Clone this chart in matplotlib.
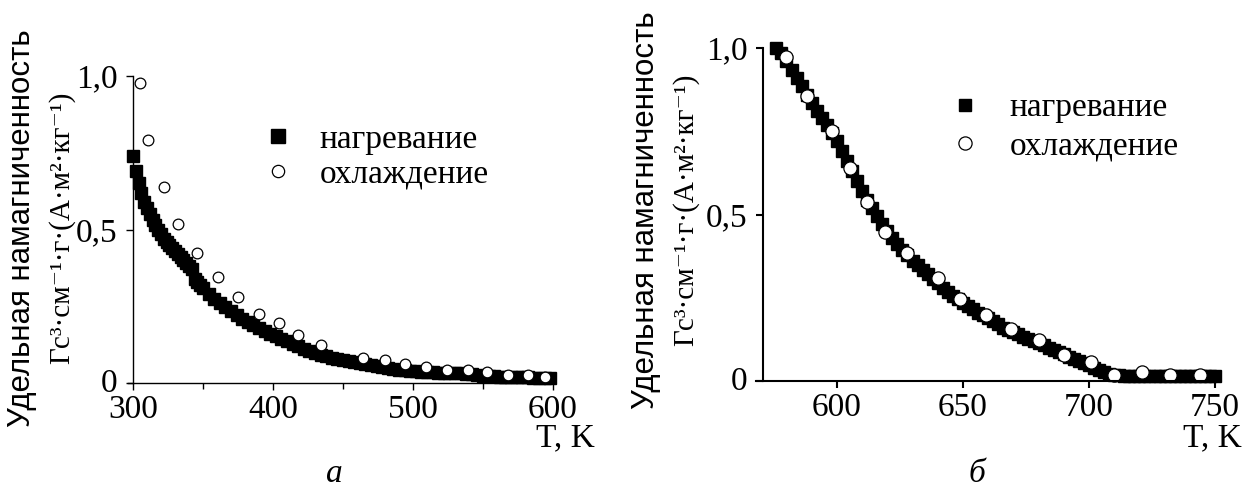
import matplotlib.pyplot as plt
from matplotlib.ticker import FixedLocator
from matplotlib.transforms import ScaledTranslation

plt.rcParams['font.family'] = ['Liberation Serif', 'DejaVu Serif']

# panel а: heating (squares)
heat_a_T = [300, 302, 304, 306, 308, 310, 312, 314, 316, 318, 320, 322, 324, 326, 328,
            330, 332, 334, 336, 338, 340, 342, 344, 346, 348, 350, 354, 358, 362, 366,
            370, 374, 378, 382, 386, 390, 394, 398, 402, 406, 410, 414, 418, 422, 426,
            430, 434, 438, 442, 446, 450, 454, 458, 462, 466, 470, 474, 478, 482, 486,
            490, 494, 498, 502, 506, 510, 514, 518, 522, 526, 530, 534, 538, 542, 546,
            550, 554, 558, 562, 566, 570, 574, 578, 582, 586, 590, 594, 598]
heat_a_M = [0.74, 0.69, 0.65, 0.62, 0.59, 0.57, 0.55, 0.53, 0.515, 0.50, 0.485, 0.47, 0.46, 0.45, 0.44,
            0.43, 0.42, 0.41, 0.40, 0.39, 0.38, 0.37, 0.34, 0.33, 0.32, 0.31, 0.29, 0.275, 0.26, 0.248,
            0.235, 0.222, 0.21, 0.20, 0.19, 0.18, 0.17, 0.16, 0.152, 0.144, 0.137, 0.128, 0.12, 0.112, 0.105,
            0.098, 0.092, 0.088, 0.083, 0.079, 0.075, 0.072, 0.069, 0.066, 0.062, 0.058, 0.055, 0.051, 0.048, 0.046,
            0.043, 0.041, 0.039, 0.038, 0.037, 0.036, 0.035, 0.034, 0.033, 0.032, 0.032, 0.031, 0.030, 0.029, 0.026,
            0.024, 0.023, 0.022, 0.021, 0.020, 0.020, 0.019, 0.018, 0.018, 0.017, 0.016, 0.016, 0.015]
# panel а: cooling (circles)
cool_a_T = [305, 311, 322, 332, 346, 361, 375, 390, 404, 418, 434, 464, 480, 494,
            509, 524, 539, 553, 568, 582, 594]
cool_a_M = [0.976, 0.79, 0.638, 0.518, 0.424, 0.344, 0.281, 0.225, 0.194, 0.156, 0.124, 0.083, 0.075, 0.061,
            0.051, 0.042, 0.042, 0.035, 0.026, 0.026, 0.018]

# panel б: heating (squares)
heat_b_T = [576, 578, 580, 582, 584, 586, 588, 590, 592, 594, 596, 598, 600, 602, 604,
            606, 608, 610, 612, 614, 616, 618, 620, 622, 624, 626, 628, 630, 632, 634,
            636, 638, 640, 642, 644, 646, 648, 650, 652, 654, 656, 658, 660, 662, 664,
            666, 668, 670, 672, 674, 676, 678, 680, 682, 684, 686, 688, 690, 692, 694,
            696, 698, 700, 702, 704, 706, 708, 710, 712, 714, 716, 718, 720, 722, 724,
            726, 728, 730, 732, 734, 736, 738, 740, 742, 744, 746, 748, 750]
heat_b_M = [1.0, 0.985, 0.96, 0.935, 0.91, 0.885, 0.86, 0.835, 0.81, 0.79, 0.77, 0.745, 0.72, 0.69, 0.66,
            0.63, 0.60, 0.57, 0.545, 0.52, 0.495, 0.47, 0.45, 0.43, 0.41, 0.393, 0.377, 0.36, 0.347, 0.333,
            0.32, 0.307, 0.293, 0.28, 0.267, 0.255, 0.245, 0.235, 0.225, 0.215, 0.205, 0.197, 0.19, 0.18, 0.17,
            0.16, 0.153, 0.147, 0.14, 0.133, 0.127, 0.12, 0.113, 0.107, 0.10, 0.093, 0.087, 0.08, 0.073, 0.067,
            0.06, 0.053, 0.047, 0.04, 0.033, 0.027, 0.022, 0.019, 0.017, 0.016, 0.015, 0.015, 0.015, 0.015, 0.015,
            0.015, 0.015, 0.015, 0.015, 0.015, 0.015, 0.016, 0.016, 0.016, 0.016, 0.016, 0.016, 0.016]
# panel б: cooling (circles)
cool_b_T = [580, 588, 598, 605, 612, 619, 628, 640, 649, 659, 669, 680, 690, 701, 710, 721, 732, 744]
cool_b_M = [0.974, 0.857, 0.751, 0.639, 0.538, 0.448, 0.383, 0.308, 0.246, 0.198, 0.155, 0.123, 0.078,
            0.058, 0.018, 0.028, 0.018, 0.018]

y_ticks = [0, 0.5, 1.0]
y_ticklabels = ['0', '0,5', '1,0']
x_ticks_a = [300, 400, 500, 600]
x_minor_a = [350, 450, 550]
x_ticks_b = [600, 650, 700, 750]
labels = ['нагревание', 'охлаждение']
ylabel_1 = 'Удельная намагниченность'
ylabel_2 = 'Гс³·см⁻¹·г·(А·м²·кг⁻¹)'

W, H = 1243, 491
FS = 24
fig = plt.figure(figsize=(W / 100, H / 100), dpi=100)


def box(x0, y0, x1, y1):
    return [x0 / W, 1 - y1 / H, (x1 - x0) / W, (y1 - y0) / H]


def style(ax, lw):
    ax.spines['top'].set_visible(False)
    ax.spines['right'].set_visible(False)
    ax.spines['left'].set_linewidth(lw)
    ax.spines['bottom'].set_linewidth(lw)
    ax.set_ylim(0, 1.0)
    ax.set_yticks(y_ticks)
    ax.set_yticklabels(y_ticklabels)
    ax.tick_params(axis='both', which='major', direction='out', length=5, width=lw,
                   labelsize=FS, pad=3)
    ax.tick_params(axis='y', pad=6)
    ax.tick_params(axis='x', which='minor', direction='out', length=4, width=lw)
    # lift the "0" label a little so it clears the x tick labels
    zero = ax.get_yticklabels()[0]
    zero.set_transform(zero.get_transform() + ScaledTranslation(0, 3 / 100, fig.dpi_scale_trans))


# ---- panel а ----
ax1 = fig.add_axes(box(128, 76, 553, 383))
h1, = ax1.plot(heat_a_T, heat_a_M, 's', color='black', ms=9, mec='black', clip_on=False)
c1, = ax1.plot(cool_a_T, cool_a_M, 'o', mfc='white', mec='black', mew=0.9, ms=7.7, clip_on=False)
ax1.set_xlim(296.5, 600)
ax1.spines['left'].set_position(('data', 300))
ax1.set_xticks(x_ticks_a)
ax1.xaxis.set_minor_locator(FixedLocator(x_minor_a))
style(ax1, 1.0)
ax1.legend([h1, c1], labels, loc='center left', frameon=False, fontsize=FS,
           bbox_to_anchor=(261 / W, 1 - 157 / H), bbox_transform=fig.transFigure,
           borderpad=0, borderaxespad=0, handlelength=1.0, handletextpad=0.76,
           labelspacing=0.13, markerscale=1.15, numpoints=1)

# ---- panel б ----
ax2 = fig.add_axes(box(756, 48, 1215, 381))
h2, = ax2.plot(heat_b_T, heat_b_M, 's', color='black', ms=9, mec='black', clip_on=False)
c2, = ax2.plot(cool_b_T, cool_b_M, 'o', mfc='white', mec='black', mew=0.9, ms=9.5, clip_on=False)
ax2.set_xlim(567.9, 750)
ax2.spines['left'].set_position(('data', 570.6))
ax2.set_xticks(x_ticks_b)
style(ax2, 1.5)
ax2.legend([h2, c2], labels, loc='center left', frameon=False, fontsize=FS,
           bbox_to_anchor=(948 / W, 1 - 127 / H), bbox_transform=fig.transFigure,
           borderpad=0, borderaxespad=0, handlelength=1.0, handletextpad=0.85,
           labelspacing=0.22, markerscale=1.0, numpoints=1)

# axis titles
for xl1, xl2, yc, xt, tag, xtag in [(22, 62, 228, 565, 'а', 334), (646, 686, 210, 1212, 'б', 977)]:
    fig.text(xl1 / W, 1 - yc / H, ylabel_1, rotation=90, ha='center', va='center',
             fontsize=22.5, family=['Liberation Sans', 'DejaVu Sans'])
    fig.text(xl2 / W, 1 - yc / H, ylabel_2, rotation=90, ha='center', va='center', fontsize=21)
    fig.text(xt / W, 1 - 438 / H, 'T, K', ha='center', va='center', fontsize=FS)
    fig.text(xtag / W, 1 - 474 / H, tag, ha='center', va='center', fontsize=FS, style='italic')

fig.savefig('out.png', dpi=100)
